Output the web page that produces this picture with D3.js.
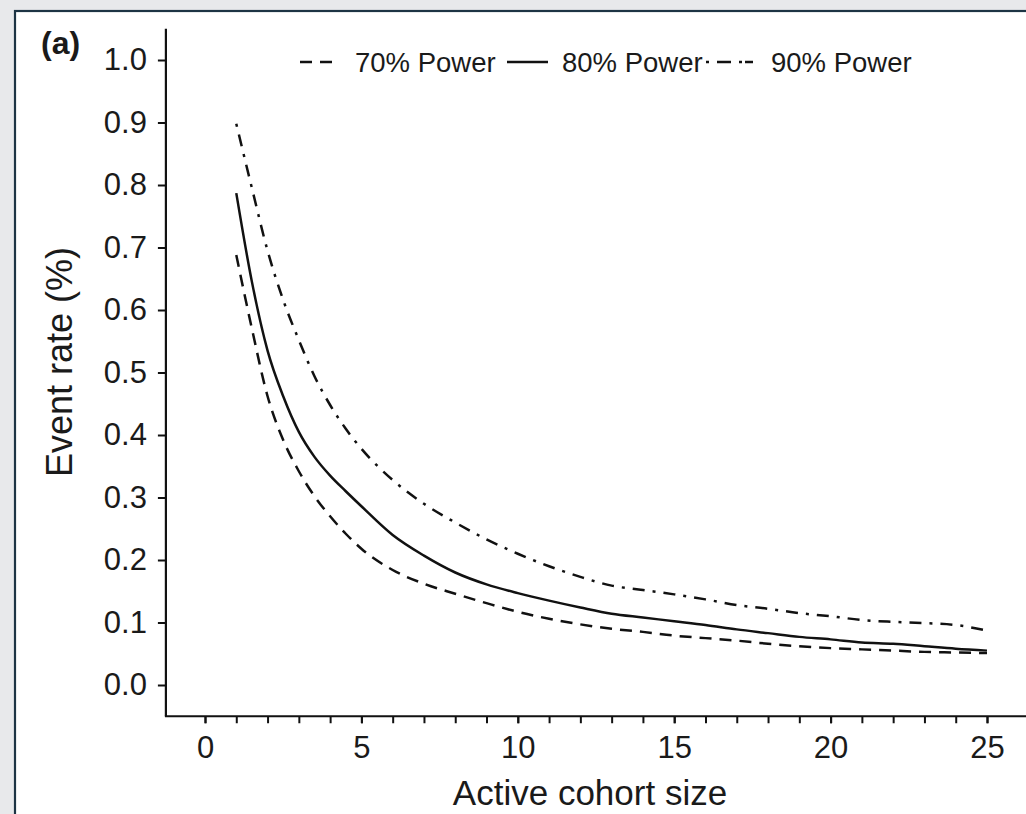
<!DOCTYPE html>
<html>
<head>
<meta charset="utf-8">
<script src="https://cdn.jsdelivr.net/npm/d3@7"></script>
<style>
  html, body { margin: 0; padding: 0; background: #e8e9eb; }
  svg { display: block; }
  text { font-family: "Liberation Sans", Arial, Helvetica, sans-serif; fill: #1a1a1a; }
</style>
</head>
<body>
<svg id="chart" width="1026" height="814"></svg>
<script>
// ---- Data ----
const cohortSize = [1, 1.5, 2, 2.5, 3, 3.5, 4, 4.5, 5, 6, 7, 8, 9, 10, 11, 12, 13, 14, 15, 16, 17, 18, 19, 20, 21, 22, 23, 24, 25];
const power70 = [0.688, 0.570, 0.462, 0.392, 0.342, 0.302, 0.270, 0.242, 0.218, 0.184, 0.162, 0.146, 0.131, 0.117, 0.106, 0.097, 0.090, 0.085, 0.079, 0.075, 0.071, 0.066, 0.062, 0.059, 0.057, 0.055, 0.053, 0.052, 0.051];
const power80 = [0.787, 0.645, 0.535, 0.462, 0.405, 0.365, 0.335, 0.310, 0.286, 0.240, 0.207, 0.180, 0.161, 0.147, 0.135, 0.124, 0.114, 0.108, 0.102, 0.096, 0.089, 0.083, 0.077, 0.073, 0.068, 0.066, 0.062, 0.058, 0.055];
const power90 = [0.898, 0.795, 0.695, 0.616, 0.552, 0.494, 0.448, 0.410, 0.378, 0.328, 0.290, 0.260, 0.233, 0.210, 0.190, 0.173, 0.159, 0.152, 0.145, 0.137, 0.128, 0.122, 0.115, 0.110, 0.104, 0.101, 0.099, 0.096, 0.087];
const seriesNames = ["70% Power", "80% Power", "90% Power"];
const xTicks = [0, 5, 10, 15, 20, 25];
const xMinorTicks = d3.range(0, 26, 1);
const yTicks = [0.0, 0.1, 0.2, 0.3, 0.4, 0.5, 0.6, 0.7, 0.8, 0.9, 1.0];

// ---- Styles ----
const dashes = ["12,8", null, "3,8,12,8"];
const svg = d3.select("#chart");

// panel frame
svg.append("rect").attr("x", 15).attr("y", 11).attr("width", 1030).attr("height", 830)
  .attr("fill", "#ffffff").attr("stroke", "#1d3444").attr("stroke-width", 2.2);

const x = d3.scaleLinear().domain([0, 25]).range([205, 987]);
const y = d3.scaleLinear().domain([0, 1]).range([685, 60]);

// axis lines
const axisX0 = x(-1.25), axisY0 = y(-0.05);
svg.append("line").attr("x1", axisX0).attr("x2", axisX0).attr("y1", y(1.05)).attr("y2", axisY0)
  .attr("stroke", "#111").attr("stroke-width", 2.2);
svg.append("line").attr("x1", axisX0 - 1).attr("x2", x(27)).attr("y1", axisY0).attr("y2", axisY0)
  .attr("stroke", "#111").attr("stroke-width", 2.2);

// y axis
const gy = svg.append("g").attr("transform", `translate(${axisX0},0)`)
  .call(d3.axisLeft(y).tickValues(yTicks).tickFormat(d3.format(".1f")).tickSize(8).tickSizeOuter(0).tickPadding(11));
gy.select(".domain").remove();
gy.selectAll(".tick line").attr("stroke", "#111").attr("stroke-width", 2);
gy.selectAll(".tick text").style("font-size", "31px").attr("fill", "#1a1a1a");

// x axis minor ticks
const gxm = svg.append("g").attr("transform", `translate(0,${axisY0})`)
  .call(d3.axisBottom(x).tickValues(xMinorTicks).tickFormat("").tickSize(7).tickSizeOuter(0));
gxm.select(".domain").remove();
gxm.selectAll(".tick line").attr("stroke", "#111").attr("stroke-width", 2);

// x axis labels
const gx = svg.append("g").attr("transform", `translate(0,${axisY0})`)
  .call(d3.axisBottom(x).tickValues(xTicks).tickFormat(d3.format("d")).tickSize(7).tickSizeOuter(0).tickPadding(13));
gx.select(".domain").remove();
gx.selectAll(".tick line").attr("stroke", "#111").attr("stroke-width", 2);
gx.selectAll(".tick text").style("font-size", "31px").attr("fill", "#1a1a1a");

// axis titles
svg.append("text").attr("x", 590).attr("y", 805).attr("text-anchor", "middle")
  .style("font-size", "35px").text("Active cohort size");
svg.append("text").attr("transform", "translate(72,362) rotate(-90)").attr("text-anchor", "middle")
  .style("font-size", "36px").text("Event rate (%)");

// panel label
svg.append("text").attr("x", 41).attr("y", 54).style("font-size", "32px").style("font-weight", "bold").text("(a)");

// lines
const allSeries = [power70, power80, power90];
const line = d3.line().x(d => x(d[0])).y(d => y(d[1])).curve(d3.curveMonotoneX);
allSeries.forEach((vals, i) => {
  const pts = cohortSize.map((c, j) => [c, vals[j]]);
  svg.append("path").datum(pts).attr("d", line)
    .attr("fill", "none").attr("stroke", "#111").attr("stroke-width", 2.5)
    .attr("stroke-dasharray", dashes[i]);
});

// legend
const legendItems = [
  { x1: 300, x2: 336, tx: 355 },
  { x1: 507, x2: 548, tx: 562 },
  { x1: 706, x2: 756, tx: 771 }
];
const legY = 62;
legendItems.forEach((it, i) => {
  svg.append("line").attr("x1", it.x1).attr("x2", it.x2).attr("y1", legY).attr("y2", legY)
    .attr("stroke", "#111").attr("stroke-width", 2.6).attr("stroke-dasharray", i === 2 ? "3,8,14,8,3" : dashes[i]);
  svg.append("text").attr("x", it.tx).attr("y", legY + 10).style("font-size", "27.5px").text(seriesNames[i]);
});
</script>
</body>
</html>
